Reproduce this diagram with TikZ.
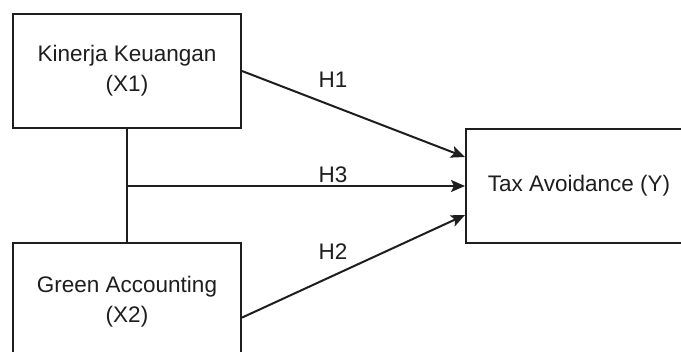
\documentclass[tikz,border=0pt]{standalone}
\usepackage{fontspec}
\setmainfont{Liberation Sans}
\usetikzlibrary{calc,arrows.meta}
\definecolor{ink}{HTML}{1e1e1e}
\tikzset{
  box/.style={draw=ink, line width=2pt, fill=white, rectangle, align=center,
    text=ink, font=\fontsize{22.5}{30}\selectfont, inner sep=0pt},
  conn/.style={draw=ink, line width=2pt},
  arr/.style={conn, -{Stealth[length=14pt,width=12pt,inset=3pt]}},
  lbl/.style={text=ink, font=\fontsize{22.5}{26}\selectfont, inner sep=0pt}
}
\begin{document}
\begin{tikzpicture}[x=1pt,y=-1pt]
\path[use as bounding box, clip] (0,0) rectangle (681,352);
\fill[white] (0,0) rectangle (681,352);
\node[box, minimum width=228pt, minimum height=114pt] (X1) at (127,71) {Kinerja Keuangan\\(X1)};
\node[box, minimum width=228pt, minimum height=118pt] (X2) at (127,302) {Green Accounting\\(X2)};
\node[box, minimum width=226pt, minimum height=114pt] (Y) at (579,186) {Tax Avoidance (Y)};
\coordinate (Y1) at ($(Y.north west)!0.25!(Y.south west)$);
\coordinate (Y2) at ($(Y.north west)!0.5!(Y.south west)$);
\coordinate (Y3) at ($(Y.north west)!0.75!(Y.south west)$);
\coordinate (X2e) at ($(X2.north east)!0.63!(X2.south east)$);
\coordinate (J) at (X1.south |- Y2);
\draw[conn] (X1.south) -- (X2.north);
\draw[arr] (X1.east) -- (Y1);
\draw[arr] (J) -- (Y2);
\draw[arr] (X2e) -- (Y3);
\node[lbl] (H1) at (333,80) {H1};
\node[lbl] (H3) at (333,175) {H3};
\node[lbl] (H2) at (333,252) {H2};
\end{tikzpicture}
\end{document}
